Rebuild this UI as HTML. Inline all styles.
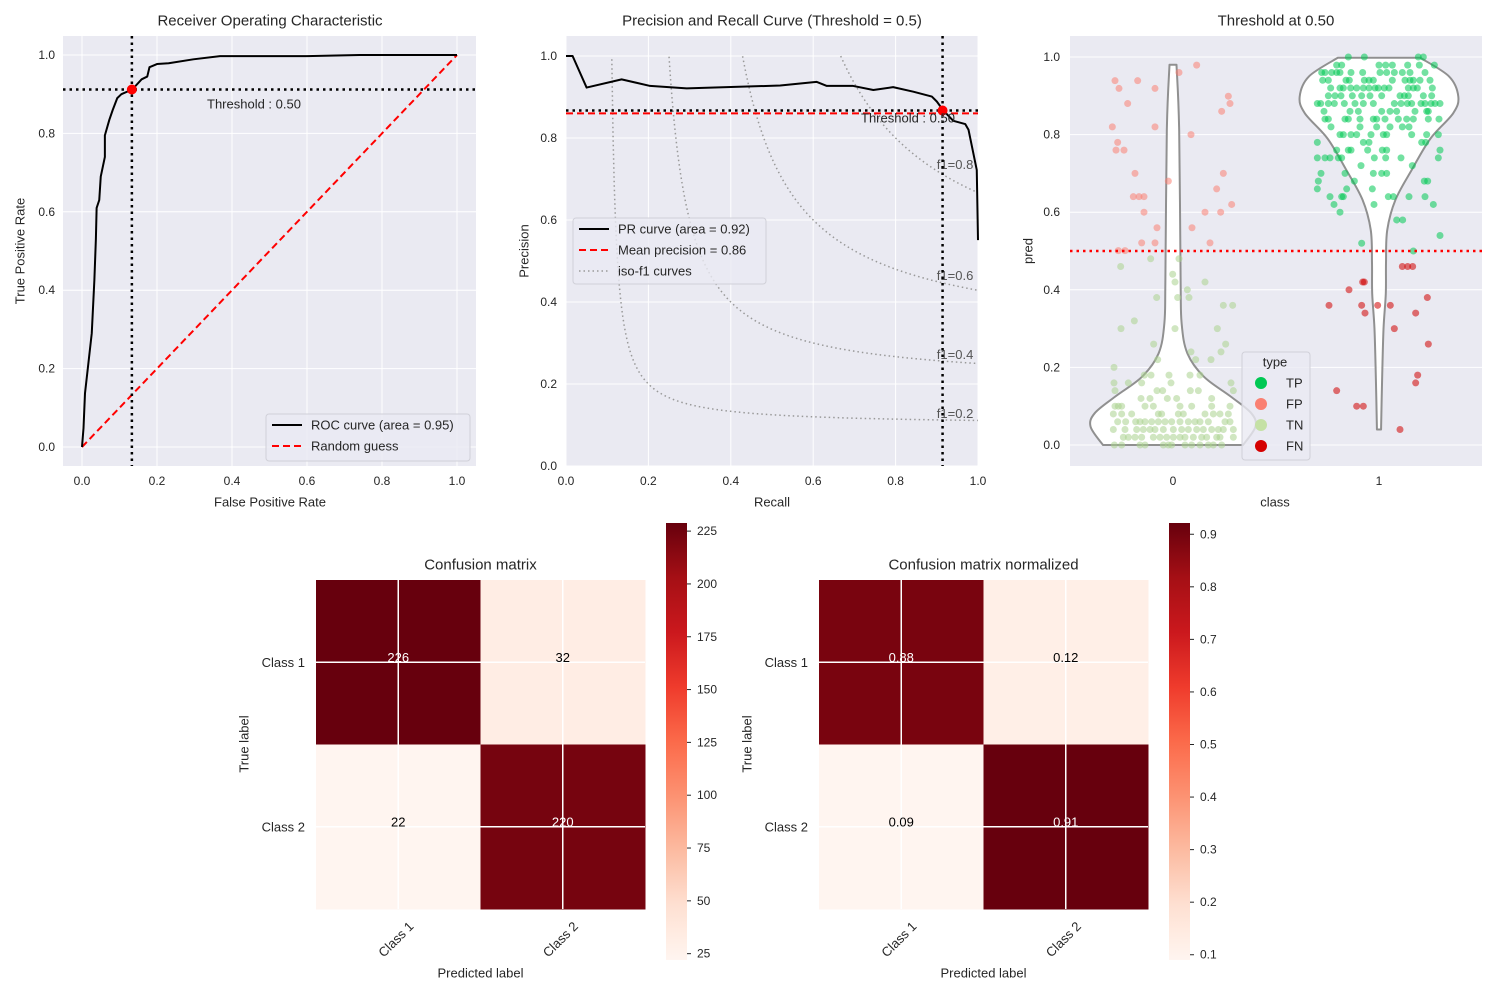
<!DOCTYPE html>
<html><head><meta charset="utf-8"><style>
html,body{margin:0;padding:0;background:#fff;}
svg{display:block;font-family:"Liberation Sans",Arial,sans-serif;}
</style></head><body>
<svg id="fig" width="1500" height="1000" viewBox="0 0 1500 1000" xmlns="http://www.w3.org/2000/svg"></svg>
<script>
// ---------- DATA ----------
const rocFpr=[0,0.004,0.008,0.026,0.033,0.037,0.039,0.046,0.05,0.061,0.061,0.073,0.082,0.094,0.105,0.134,0.159,0.174,0.18,0.2,0.231,0.297,0.368,0.6,0.74,1.0];
const rocTpr=[0,0.048,0.137,0.29,0.426,0.53,0.61,0.63,0.69,0.74,0.795,0.835,0.86,0.89,0.90,0.912,0.938,0.945,0.969,0.977,0.979,0.989,0.997,0.997,1.0,1.0];
const rocThreshPoint=[0.133,0.912];
const rocTicks=[0,0.2,0.4,0.6,0.8,1.0];
const rocTickLabels=["0.0","0.2","0.4","0.6","0.8","1.0"];
const prRecall=[0,0.016,0.05,0.135,0.204,0.293,0.52,0.608,0.633,0.697,0.746,0.794,0.843,0.888,0.9,0.916,0.94,0.969,0.977,0.997,1.0];
const prPrecision=[1.0,1.0,0.923,0.943,0.927,0.921,0.928,0.937,0.927,0.927,0.917,0.924,0.913,0.901,0.889,0.867,0.842,0.834,0.82,0.722,0.551];
const prThreshPoint=[0.914,0.867];
const meanPrecision=[0.86];
const isoF1=[0.2,0.4,0.6,0.8];
// violin scatter: pred values and jitter offsets (in 1/618 class units)
const fpPred=[0.939,0.939,0.919,0.919,0.880,0.979,0.960,0.899,0.880,0.860,0.820,0.820,0.800,0.780,0.760,0.760,0.700,0.700,0.660,0.680,0.640,0.640,0.640,0.620,0.600,0.600,0.600,0.560,0.560,0.521,0.521,0.521,0.501,0.501];
const fpJit=[-174,-106,-162,-54,-136,71,18,166,171,146,-182,-54,54,-166,-171,-147,-114,151,131,-14,-119,-102,-87,176,-87,96,143,-48,57,-94,-54,111,-164,-144];
const tnRows=[0.48,0.46,0.44,0.42,0.40,0.38,0.36,0.32,0.30,0.26,0.24,0.22,0.20,0.18,0.16,0.14,0.12,0.10,0.08,0.06,0.04,0.02,0.0];
const tnRowJit=[[-67,18],[-157],[-1],[6,96],[43],[-49,14,48],[151,179],[-116],[-156,6,133],[-58,158],[144,54],[114,-46,68],[-177],[-86,-66,-12,51,81],[-177,-134,-94,-6,174],[-174,-48,-31,52,76,181],[-96,-69,-17,11,116],[-174,-164,-154,-84,-59,21,56,116,171],[-179,-154,-124,-44,-34,16,31,96,121,141,166],[-166,-142,-112,-99,-84,-64,-44,-24,-4,21,46,66,81,106,156,171],[-179,-144,-109,-89,-69,-54,-29,1,26,46,71,91,116,136,151,181],[-149,-134,-114,-94,-59,-39,-19,1,21,36,61,86,101,131,141,181],[-176,-154,-99,-84,-29,-14,-4,36,56,81,106,121,146]];
const tpRows=[1.0,0.979,0.96,0.94,0.92,0.90,0.88,0.86,0.84,0.82,0.80,0.78,0.76,0.74,0.72,0.70,0.68,0.66,0.64,0.62,0.60,0.58,0.54,0.52,0.50];
const tpRowJit=[[-92,-44,118,133],[-127,-112,0,20,40,86,121,166],[-172,-162,-142,-127,-117,-84,-49,3,23,46,70,93,138],[-169,-152,-99,-89,-44,-30,-17,40,78,93,103,123,153],[-145,-117,-107,-85,-67,-47,-30,-12,-2,16,30,88,103,115,160],[-152,-132,-114,-80,-52,-27,8,63,76,88,133,158],[-185,-175,-152,-134,-104,-72,-47,-17,46,66,85,98,126,138,156,168,183],[-165,-87,-62,8,33,53,108,143,148],[-162,-152,-102,-92,-57,-17,-7,18,58,83,103,148,180],[-144,-57,-7,33,70,90],[-117,-107,-84,-67,-24,13,23,98,143,178],[-185,-47,-30,128,140],[-127,-92,-84,-34,10,23,183],[-185,-162,-147,-122,-112,-14,20,66,178],[-54,100],[-174,-102,-17,8,23],[-182,-74,136,146],[-185,-97,-20],[-147,-112,-107,28,43,90,138],[-135,-15,163],[-117],[53,71],[183],[-52],[103]];
const fnPred=[0.46,0.46,0.46,0.42,0.42,0.40,0.38,0.36,0.36,0.36,0.36,0.34,0.34,0.30,0.26,0.18,0.16,0.14,0.10,0.10,0.04];
const fnJit=[70,86,101,-49,-44,-90,145,-150,-52,-4,34,-42,110,46,148,116,110,-127,-67,-47,63];
// violin density profiles: pred, half-width (class units)
const v0Pred=[0,0.047,0.082,0.125,0.176,0.236,0.313,0.425,0.81,0.98];
const v0Half=[0.34,0.40,0.38,0.28,0.15,0.07,0.042,0.037,0.03,0.017];
const v1Pred=[0.04,0.167,0.30,0.39,0.47,0.554,0.632,0.71,0.79,0.855,0.898,0.95,0.998];
const v1Half=[0.01,0.015,0.022,0.033,0.034,0.04,0.08,0.16,0.25,0.36,0.385,0.34,0.20];
const violinTicks=[0,0.2,0.4,0.6,0.8,1.0];
// confusion matrices
const cmClasses=["Class 1","Class 2"];
const cmCounts=[[226,32],[22,220]];
const cmNorm=[[0.88,0.12],[0.09,0.91]];
const cbTicks=[25,50,75,100,125,150,175,200,225];
const cbNormTicks=[0.1,0.2,0.3,0.4,0.5,0.6,0.7,0.8,0.9];

// ---------- HELPERS ----------
const NS="http://www.w3.org/2000/svg";
const svg=document.getElementById('fig');
function el(tag,attrs,parent,txt){const e=document.createElementNS(NS,tag);for(const k in attrs)e.setAttribute(k,attrs[k]);if(txt!==undefined)e.textContent=txt;(parent||svg).appendChild(e);return e;}
const TC="#262626";
function text(x,y,s,opt,parent){opt=opt||{};const t=el('text',{x:x,y:y,'font-size':opt.fs||12,fill:opt.fill||TC,'text-anchor':opt.anchor||'middle','dominant-baseline':opt.base||'central'},parent,s);if(opt.rot)t.setAttribute('transform',`rotate(${opt.rot} ${x} ${y})`);return t;}
function lin(d0,d1,r0,r1){return v=>r0+(v-d0)*(r1-r0)/(d1-d0);}
const REDS=[[255,245,240],[254,224,210],[252,187,161],[252,146,114],[251,106,74],[239,59,44],[203,24,29],[165,15,21],[103,0,13]];
function reds(t){t=Math.max(0,Math.min(1,t));const p=t*8,i=Math.min(7,Math.floor(p)),f=p-i;const a=REDS[i],b=REDS[i+1];return `rgb(${a.map((c,k)=>Math.round(c+(b[k]-c)*f)).join(',')})`;}
function smoothPath(pts){
  let d='M'+pts[0][0]+','+pts[0][1];
  for(let i=0;i<pts.length-1;i++){
    const p0=pts[Math.max(0,i-1)],p1=pts[i],p2=pts[i+1],p3=pts[Math.min(pts.length-1,i+2)];
    const c1=[p1[0]+(p2[0]-p0[0])/6,p1[1]+(p2[1]-p0[1])/6],c2=[p2[0]-(p3[0]-p1[0])/6,p2[1]-(p3[1]-p1[1])/6];
    d+=`C${c1[0]},${c1[1]} ${c2[0]},${c2[1]} ${p2[0]},${p2[1]}`;
  }
  return d;
}

// ---------- ROC ----------
(function(){
const g=el('g',{});
const X=lin(0,1,82,457),Y=lin(0,1,447,55);
const bg=el('rect',{x:63,y:36,width:413,height:430,fill:'#eaeaf2'},g);
rocTicks.forEach((v,i)=>{
  el('line',{x1:X(v),x2:X(v),y1:36,y2:466,stroke:'#fff','stroke-width':1},g);
  el('line',{x1:63,x2:476,y1:Y(v),y2:Y(v),stroke:'#fff','stroke-width':1},g);
  const tx=text(X(v),481,rocTickLabels[i],{},g);
  const ty=text(55,Y(v),rocTickLabels[i],{anchor:'end'},g);
});
const diag=el('line',{x1:X(0),y1:Y(0),x2:X(1),y2:Y(1),stroke:'#ff0000','stroke-width':2,'stroke-dasharray':'7,4'},g);

const curve=el('polyline',{points:rocFpr.map((f,i)=>X(f)+','+Y(rocTpr[i])).join(' '),fill:'none',stroke:'#000','stroke-width':2,'stroke-linejoin':'round'},g);

const vl=el('line',{x1:X(rocThreshPoint[0]),x2:X(rocThreshPoint[0]),y1:36,y2:466,stroke:'#000','stroke-width':2.5,'stroke-dasharray':'2.5,4'},g);

const hl=el('line',{x1:63,x2:476,y1:Y(rocThreshPoint[1]),y2:Y(rocThreshPoint[1]),stroke:'#000','stroke-width':2.5,'stroke-dasharray':'2.5,4'},g);

const pt=el('circle',{cx:X(rocThreshPoint[0]),cy:Y(rocThreshPoint[1]),r:5,fill:'#ff0000'},g);

const tl=text(207,104,'Threshold : 0.50',{anchor:'start',fs:13},g);
const t=text(270,21,'Receiver Operating Characteristic',{fs:15},g);
const xl=text(270,502,'False Positive Rate',{fs:13},g);
const yl=text(20,251,'True Positive Rate',{fs:13,rot:-90},g);
const lg=el('g',{},g);
el('rect',{x:266,y:414,width:204,height:47,rx:3,fill:'#eaeaf2','fill-opacity':0.8,stroke:'#d0d0d8'},lg);
el('line',{x1:272,x2:302,y1:425,y2:425,stroke:'#000','stroke-width':2},lg);
text(311,425,'ROC curve (area = 0.95)',{anchor:'start',fs:13},lg);
el('line',{x1:272,x2:302,y1:446,y2:446,stroke:'#f00','stroke-width':2,'stroke-dasharray':'7,4'},lg);
text(311,446,'Random guess',{anchor:'start',fs:13},lg);
})();

// ---------- PR ----------
(function(){
const g=el('g',{});
const X=lin(0,1,566,978),Y=lin(0,1,466,56);
const cp=el('clipPath',{id:'prclip'},g);el('rect',{x:566,y:36,width:412,height:430},cp);
const bg=el('rect',{x:566,y:36,width:412,height:430,fill:'#eaeaf2'},g);
rocTicks.forEach((v,i)=>{
  el('line',{x1:X(v),x2:X(v),y1:36,y2:466,stroke:'#fff'},g);
  el('line',{x1:566,x2:978,y1:Y(v),y2:Y(v),stroke:'#fff'},g);
  const tx=text(X(v),481,rocTickLabels[i],{},g);
  const ty=text(557,Y(v),rocTickLabels[i],{anchor:'end'},g);
});
const cg=el('g',{'clip-path':'url(#prclip)'},g);
isoF1.forEach(f=>{
  const pts=[];for(let i=0;i<=300;i++){const x=f/(2-f)+0.0001+i*(1-f/(2-f))/300;const y=f*x/(2*x-f);if(y<=1.2)pts.push(X(x)+','+Y(y));}
  const c=el('polyline',{points:pts.join(' '),fill:'none',stroke:'#999','stroke-width':1.5,'stroke-dasharray':'1.5,3'},cg);
  
  const yl=f*0.9/(1.8-f)+0.02;
  const lb=text(X(0.9),Y(yl)+2,'f1='+f,{anchor:'start',fs:13,fill:'#555'},g);
});
const mp=el('line',{x1:566,x2:978,y1:Y(meanPrecision[0]),y2:Y(meanPrecision[0]),stroke:'#f00','stroke-width':2,'stroke-dasharray':'7,4'},g);

const curve=el('polyline',{points:prRecall.map((r,i)=>X(r)+','+Y(prPrecision[i])).join(' '),fill:'none',stroke:'#000','stroke-width':2,'stroke-linejoin':'round'},g);

const vl=el('line',{x1:X(prThreshPoint[0]),x2:X(prThreshPoint[0]),y1:36,y2:466,stroke:'#000','stroke-width':2.5,'stroke-dasharray':'2.5,4'},g);

const hl=el('line',{x1:566,x2:978,y1:Y(prThreshPoint[1]),y2:Y(prThreshPoint[1]),stroke:'#000','stroke-width':2.5,'stroke-dasharray':'2.5,4'},g);

const pt=el('circle',{cx:X(prThreshPoint[0]),cy:Y(prThreshPoint[1]),r:5,fill:'#f00'},g);

const tl=text(861,118,'Threshold : 0.50',{anchor:'start',fs:13},g);
const t=text(772,21,'Precision and Recall Curve (Threshold = 0.5)',{fs:15},g);
const xl=text(772,502,'Recall',{fs:13},g);
const yl=text(524,251,'Precision',{fs:13,rot:-90},g);
const lg=el('g',{},g);
el('rect',{x:573,y:218,width:193,height:66,rx:3,fill:'#eaeaf2','fill-opacity':0.8,stroke:'#d0d0d8'},lg);
el('line',{x1:579,x2:609,y1:229,y2:229,stroke:'#000','stroke-width':2},lg);
text(618,229,'PR curve (area = 0.92)',{anchor:'start',fs:13},lg);
el('line',{x1:579,x2:609,y1:250,y2:250,stroke:'#f00','stroke-width':2,'stroke-dasharray':'7,4'},lg);
text(618,250,'Mean precision = 0.86',{anchor:'start',fs:13},lg);
el('line',{x1:579,x2:609,y1:271,y2:271,stroke:'#999','stroke-width':1.5,'stroke-dasharray':'1.5,3'},lg);
text(618,271,'iso-f1 curves',{anchor:'start',fs:13},lg);
})();

// ---------- VIOLIN ----------
(function(){
const g=el('g',{});
const Y=lin(0,1,445,57);const CX=c=>1173+c*206;const J=206;
const bg=el('rect',{x:1070,y:36,width:412,height:430,fill:'#eaeaf2'},g);
violinTicks.forEach((v,i)=>{
  el('line',{x1:1070,x2:1482,y1:Y(v),y2:Y(v),stroke:'#fff'},g);
  const ty=text(1060,Y(v),v.toFixed(1),{anchor:'end'},g);
});
[0,1].forEach(c=>{const tx=text(CX(c),481,String(c),{},g);});
function violin(c,pr,hw,name){
  const L=pr.map((p,i)=>[CX(c)-hw[i]*J,Y(p)]),R=pr.map((p,i)=>[CX(c)+hw[i]*J,Y(p)]).reverse();
  const d=smoothPath(L)+'L'+R[0][0]+','+R[0][1]+smoothPath(R).slice(1).replace(/^[^C]*/,'')+'Z';
  const v=el('path',{d:d,fill:'#fff',stroke:'#909090','stroke-width':2,'stroke-linejoin':'round'},g);
  
}
violin(0,v0Pred,v0Half,'violin-class-0');
violin(1,v1Pred,v1Half,'violin-class-1');
function dot(c,j,p,col,name){const d=el('circle',{cx:CX(c)+j/618*J,cy:Y(p),r:3.5,fill:col,'fill-opacity':0.55},g);}
fpPred.forEach((p,i)=>dot(0,fpJit[i],p,'#fa8072','fp-point'));
tnRows.forEach((p,i)=>tnRowJit[i].forEach(j=>dot(0,j,p,'#a9d18e','tn-point')));
tpRows.forEach((p,i)=>tpRowJit[i].forEach(j=>dot(1,j,p,'#00c853','tp-point')));
fnPred.forEach((p,i)=>dot(1,fnJit[i],p,'#d00000','fn-point'));
const th=el('line',{x1:1070,x2:1482,y1:Y(0.5),y2:Y(0.5),stroke:'#f00','stroke-width':2.5,'stroke-dasharray':'2.5,4'},g);

const t=text(1276,21,'Threshold at 0.50',{fs:15},g);
const xl=text(1275,502,'class',{fs:13},g);
const yl=text(1028,251,'pred',{fs:13,rot:-90},g);
const lg=el('g',{},g);
el('rect',{x:1242,y:352,width:68,height:108,rx:3,fill:'#eaeaf2','fill-opacity':0.8,stroke:'#d0d0d8'},lg);
text(1275,362,'type',{fs:13},lg);
[['TP','#00c853',383],['FP','#fa8072',404],['TN','#c5e1a5',425],['FN','#d50000',446]].forEach(e=>{
  el('circle',{cx:1261,cy:e[2],r:6,fill:e[1]},lg);text(1286,e[2],e[0],{anchor:'start',fs:13},lg);
});
})();

// ---------- CONFUSION MATRICES ----------
function confusion(x0,cbx,mat,fmt,vmin,vmax,ticks,tfmt,title,name){
  const g=el('g',{});
  const y0=580,W=329,H=329,cw=W/2,ch=H/2;
  mat.forEach((row,r)=>row.forEach((v,c)=>{
    const cell=el('rect',{x:x0+c*cw,y:y0+r*ch,width:cw+0.5,height:ch+0.5,fill:reds((v-vmin)/(vmax-vmin))},g);
    
  }));
  [0,1].forEach(i=>{
    el('line',{x1:x0+cw*(i+0.5),x2:x0+cw*(i+0.5),y1:y0,y2:y0+H,stroke:'#fff','stroke-width':1.5},g);
    el('line',{x1:x0,x2:x0+W,y1:y0+ch*(i+0.5),y2:y0+ch*(i+0.5),stroke:'#fff','stroke-width':1.5},g);
  });
  mat.forEach((row,r)=>row.forEach((v,c)=>{
    const t=text(x0+cw*(c+0.5),y0+ch*(r+0.5)-5,fmt(v),{fs:13,fill:(v-vmin)/(vmax-vmin)>0.5?'#fff':'#000'},g);
    
  }));
  cmClasses.forEach((s,i)=>{
    const ty=text(x0-11,y0+ch*(i+0.5),s,{anchor:'end',fs:13},g);
    const cx=x0+cw*(i+0.5)+13,cy=y0+H+15;
    const tx=text(cx,cy,s,{anchor:'end',fs:13},g);tx.setAttribute('transform',`rotate(-45 ${cx} ${cy})`);
    
  });
  const t=text(x0+W/2,565,title,{fs:15},g);
  const xl=text(x0+W/2,973,'Predicted label',{fs:13},g);
  const yl=text(x0-72,744,'True label',{fs:13,rot:-90},g);
  // colorbar
  const CY=lin(vmin,vmax,960,529);
  const gid='grad'+name;const lgd=el('linearGradient',{id:gid,x1:0,y1:1,x2:0,y2:0},g);
  for(let i=0;i<=16;i++)el('stop',{offset:i/16,'stop-color':reds(i/16)},lgd);
  const cb=el('rect',{x:cbx,y:523,width:21,height:437,fill:`url(#${gid})`},g);
  
  ticks.forEach(v=>{
    el('line',{x1:cbx+21,x2:cbx+25,y1:CY(v),y2:CY(v),stroke:TC},g);
    const tt=text(cbx+31,CY(v),tfmt(v),{anchor:'start',fs:12},g);
  });
}
confusion(316,666,cmCounts,v=>String(v),22,226,cbTicks,v=>String(v),'Confusion matrix','confusion-matrix');
confusion(819,1169,cmNorm,v=>v.toFixed(2),0.09,0.91,cbNormTicks,v=>v.toFixed(1),'Confusion matrix normalized','confusion-matrix-normalized');
</script>
</body></html>
